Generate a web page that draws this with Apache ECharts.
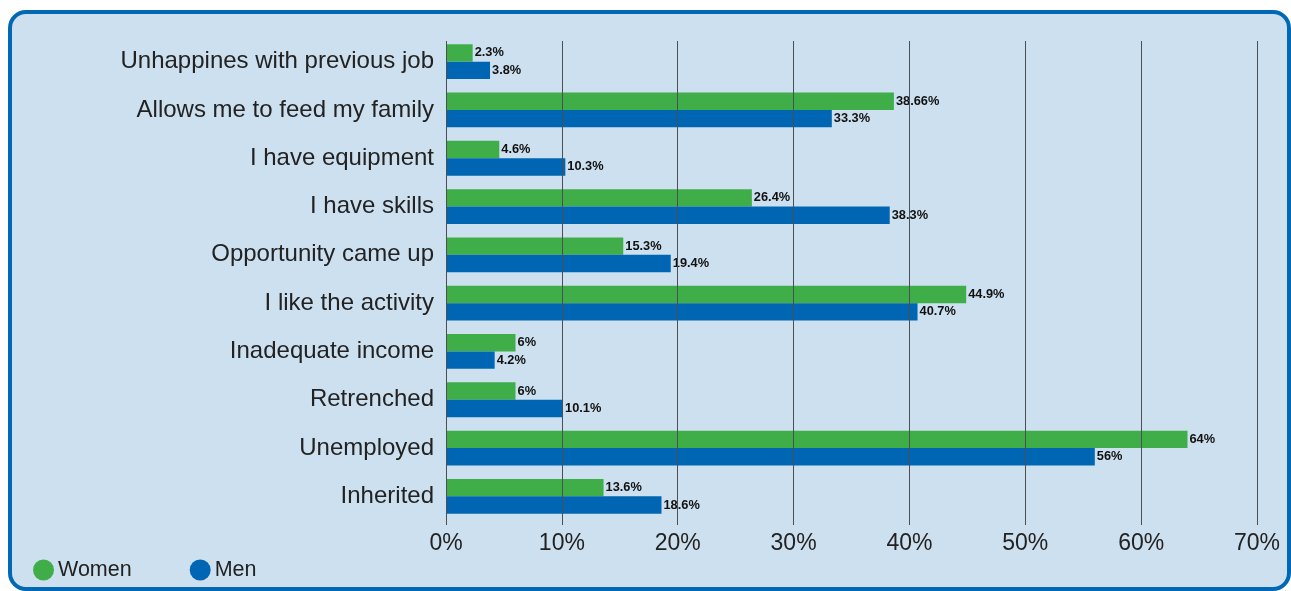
<!DOCTYPE html>
<html><head><meta charset="utf-8">
<script src="https://cdn.jsdelivr.net/npm/echarts@6/dist/echarts.min.js"></script>
<style>html,body{margin:0;padding:0;background:#fff}#c{width:1291px;height:591px}</style>
</head><body><div id="c"></div>
<script>
const categories = ["Unhappines with previous job","Allows me to feed my family","I have equipment","I have skills","Opportunity came up","I like the activity","Inadequate income","Retrenched","Unemployed","Inherited"];
const women = [2.3, 38.66, 4.6, 26.4, 15.3, 44.9, 6, 6, 64, 13.6];
const men = [3.8, 33.3, 10.3, 38.3, 19.4, 40.7, 4.2, 10.1, 56, 18.6];
const xTicks = [0,10,20,30,40,50,60,70];

const chart = echarts.init(document.getElementById('c'));
const lbl = {show:true, position:'right', distance:2, color:'#111', fontWeight:'bold', fontSize:12.8, fontFamily:'Liberation Sans, Arial', formatter: p => p.value + '%'};
chart.setOption({
  animation:false,
  graphic:[{type:'rect', z:-10, shape:{x:10, y:12, width:1279, height:577, r:16}, style:{fill:'#cde0ef', stroke:'#0068b4', lineWidth:4}}],
  grid:[
    {left:446, top:37.5, width:811, height:483, containLabel:false},
    {left:446, top:41, width:811, height:484, containLabel:false}
  ],
  xAxis:[
    {gridIndex:0, type:'value', min:0, max:70, interval:10, axisLine:{show:false}, axisTick:{show:false}, axisLabel:{show:false}, splitLine:{show:false}},
    {gridIndex:1, type:'value', min:0, max:70, interval:10, z:5,
      axisLine:{show:false}, axisTick:{show:false},
      splitLine:{show:true, lineStyle:{color:'#4a4f55', width:1}},
      axisLabel:{show:true, margin:7, color:'#222', fontSize:23, fontFamily:'Liberation Sans, Arial', formatter: v => xTicks.includes(v) ? v + '%' : ''}}
  ],
  yAxis:[
    {gridIndex:0, type:'category', data:categories, inverse:true, axisLine:{show:false}, axisTick:{show:false}, splitLine:{show:false},
      axisLabel:{margin:12, color:'#222', fontSize:24, fontFamily:'Liberation Sans, Arial'}},
    {gridIndex:1, type:'category', data:categories, show:false}
  ],
  legend:{left:28, top:554, itemWidth:21, itemHeight:21, itemGap:58, icon:'circle', textStyle:{color:'#222', fontSize:21.5, fontFamily:'Liberation Sans, Arial', padding:[0,0,0,-1]}, data:['Women','Men']},
  series:[
    {name:'Women', type:'bar', data:women, itemStyle:{color:'#3fae49'}, barGap:'0%', barCategoryGap:'28%', label:lbl},
    {name:'Men', type:'bar', data:men, itemStyle:{color:'#0066b3'}, barGap:'0%', barCategoryGap:'28%', label:lbl}
  ]
});
</script></body></html>
